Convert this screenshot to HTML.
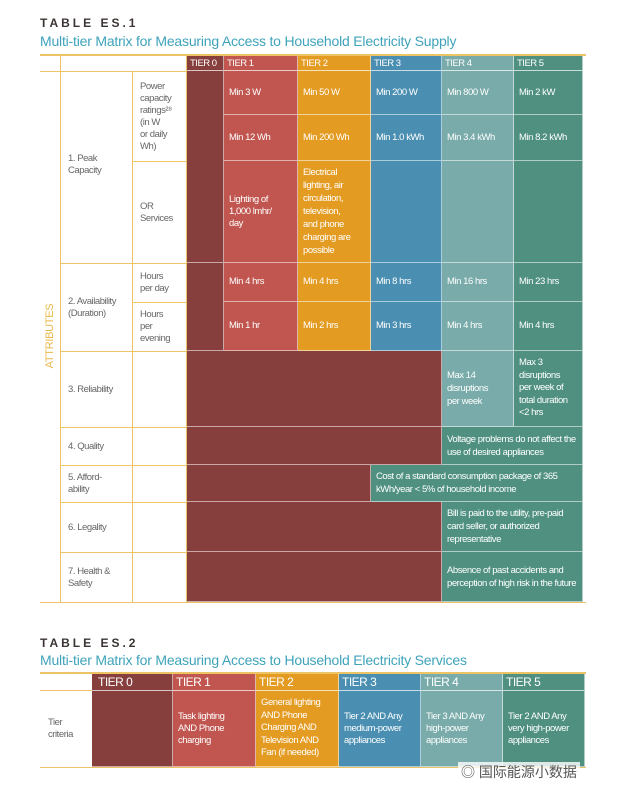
<!DOCTYPE html>
<html><head><meta charset="utf-8"><style>
body{margin:0;width:617px;height:800px;background:#fff;position:relative;overflow:hidden;font-family:"Liberation Sans",sans-serif;}
div{position:absolute;box-sizing:border-box;}
.c{color:#fff;font-size:9.5px;letter-spacing:-0.45px;line-height:12px;padding:0 5px;display:flex;align-items:center;border-right:1px solid rgba(255,255,255,.55);border-bottom:1px solid rgba(255,255,255,.55);}
.h{font-size:9.5px;letter-spacing:-0.5px;color:#fff;padding:2px 3px;line-height:12px;white-space:nowrap;border-right:1px solid rgba(255,255,255,.55);border-bottom:1px solid rgba(255,255,255,.7);}
.t0{background:#873f3e}.t1{background:#c0564f}.t2{background:#e39b22}.t3{background:#4a8fb1}.t4{background:#78aba9}.t5{background:#4f9080}
.l{color:#666;font-size:9.5px;letter-spacing:-0.45px;line-height:12px;padding-left:6px;display:flex;align-items:center;}
.g{background:#ecc466;}
.tt{font-family:"Liberation Sans",sans-serif;font-weight:bold;font-size:12px;letter-spacing:3px;color:#3b3433;}
.st{font-family:"Liberation Sans",sans-serif;font-size:14px;letter-spacing:-0.2px;color:#3ea3ba;}
</style></head><body>
<div class="tt" style="left:40px;top:16px">TABLE ES.1</div>
<div class="st" style="left:40px;top:33px">Multi-tier Matrix for Measuring Access to Household Electricity Supply</div>
<div class="g" style="left:40px;top:54px;width:546px;height:2px"></div>
<div class="g" style="left:40px;top:71px;width:147px;height:1px"></div>
<div class="g" style="left:60px;top:55px;width:1px;height:548px"></div>
<div class="g" style="left:132px;top:71px;width:1px;height:532px"></div>
<div class="g" style="left:186px;top:55px;width:1px;height:548px"></div>
<div class="g" style="left:132px;top:161px;width:55px;height:1px"></div>
<div class="g" style="left:60px;top:263px;width:127px;height:1px"></div>
<div class="g" style="left:132px;top:302px;width:55px;height:1px"></div>
<div class="g" style="left:60px;top:351px;width:127px;height:1px"></div>
<div class="g" style="left:60px;top:427px;width:127px;height:1px"></div>
<div class="g" style="left:60px;top:465px;width:127px;height:1px"></div>
<div class="g" style="left:60px;top:502px;width:127px;height:1px"></div>
<div class="g" style="left:60px;top:552px;width:127px;height:1px"></div>
<div class="g" style="left:40px;top:602px;width:546px;height:1px"></div>
<div style="transform:rotate(-90deg);transform-origin:center;color:#e9b84a;font-size:11px;width:80px;left:10px;top:330px;text-align:center;letter-spacing:-0.3px">ATTRIBUTES</div>
<div class="l" style="left:62px;top:150px;width:70px;height:30px">1. Peak<br>Capacity</div>
<div class="l" style="left:134px;top:73px;width:52px;height:88px">Power<br>capacity<br>ratings²⁸<br>(in W<br>or daily<br>Wh)</div>
<div class="l" style="left:134px;top:162px;width:52px;height:101px">OR<br>Services</div>
<div class="l" style="left:62px;top:264px;width:70px;height:87px">2. Availability<br>(Duration)</div>
<div class="l" style="left:134px;top:264px;width:52px;height:38px">Hours<br>per day</div>
<div class="l" style="left:134px;top:303px;width:52px;height:48px">Hours<br>per<br>evening</div>
<div class="l" style="left:62px;top:352px;width:70px;height:75px">3. Reliability</div>
<div class="l" style="left:62px;top:428px;width:70px;height:37px">4. Quality</div>
<div class="l" style="left:62px;top:466px;width:70px;height:36px">5. Afford-<br>ability</div>
<div class="l" style="left:62px;top:503px;width:70px;height:49px">6. Legality</div>
<div class="l" style="left:62px;top:553px;width:70px;height:49px">7. Health &amp;<br>Safety</div>
<div class="h t0" style="left:187px;top:56px;width:37px;height:15px">TIER 0</div>
<div class="h t1" style="left:224px;top:56px;width:74px;height:15px">TIER 1</div>
<div class="h t2" style="left:298px;top:56px;width:73px;height:15px">TIER 2</div>
<div class="h t3" style="left:371px;top:56px;width:71px;height:15px">TIER 3</div>
<div class="h t4" style="left:442px;top:56px;width:72px;height:15px">TIER 4</div>
<div class="h t5" style="left:514px;top:56px;width:69px;height:15px">TIER 5</div>
<div class="c t0" style="left:187px;top:71px;width:37px;height:192px"></div>
<div class="c t0" style="left:187px;top:263px;width:37px;height:88px"></div>
<div class="c t1" style="left:224px;top:71px;width:74px;height:44px">Min 3 W</div>
<div class="c t2" style="left:298px;top:71px;width:73px;height:44px">Min 50 W</div>
<div class="c t3" style="left:371px;top:71px;width:71px;height:44px">Min 200 W</div>
<div class="c t4" style="left:442px;top:71px;width:72px;height:44px">Min 800 W</div>
<div class="c t5" style="left:514px;top:71px;width:69px;height:44px">Min 2 kW</div>
<div class="c t1" style="left:224px;top:115px;width:74px;height:46px">Min 12 Wh</div>
<div class="c t2" style="left:298px;top:115px;width:73px;height:46px">Min 200 Wh</div>
<div class="c t3" style="left:371px;top:115px;width:71px;height:46px">Min 1.0 kWh</div>
<div class="c t4" style="left:442px;top:115px;width:72px;height:46px">Min 3.4 kWh</div>
<div class="c t5" style="left:514px;top:115px;width:69px;height:46px">Min 8.2 kWh</div>
<div class="c t1" style="left:224px;top:161px;width:74px;height:102px">Lighting of<br>1,000 lmhr/<br>day</div>
<div class="c t2" style="left:298px;top:161px;width:73px;height:102px;line-height:13px">Electrical<br>lighting, air<br>circulation,<br>television,<br>and phone<br>charging are<br>possible</div>
<div class="c t3" style="left:371px;top:161px;width:71px;height:102px"></div>
<div class="c t4" style="left:442px;top:161px;width:72px;height:102px"></div>
<div class="c t5" style="left:514px;top:161px;width:69px;height:102px"></div>
<div class="c t1" style="left:224px;top:263px;width:74px;height:39px">Min 4 hrs</div>
<div class="c t2" style="left:298px;top:263px;width:73px;height:39px">Min 4 hrs</div>
<div class="c t3" style="left:371px;top:263px;width:71px;height:39px">Min 8 hrs</div>
<div class="c t4" style="left:442px;top:263px;width:72px;height:39px">Min 16 hrs</div>
<div class="c t5" style="left:514px;top:263px;width:69px;height:39px">Min 23 hrs</div>
<div class="c t1" style="left:224px;top:302px;width:74px;height:49px">Min 1 hr</div>
<div class="c t2" style="left:298px;top:302px;width:73px;height:49px">Min 2 hrs</div>
<div class="c t3" style="left:371px;top:302px;width:71px;height:49px">Min 3 hrs</div>
<div class="c t4" style="left:442px;top:302px;width:72px;height:49px">Min 4 hrs</div>
<div class="c t5" style="left:514px;top:302px;width:69px;height:49px">Min 4 hrs</div>
<div class="c t0" style="left:187px;top:351px;width:255px;height:76px"></div>
<div class="c t4" style="left:442px;top:351px;width:72px;height:76px;line-height:13px">Max 14<br>disruptions<br>per week</div>
<div class="c t5" style="left:514px;top:351px;width:69px;height:76px;line-height:12.5px">Max 3<br>disruptions<br>per week of<br>total duration<br>&lt;2 hrs</div>
<div class="c t0" style="left:187px;top:427px;width:255px;height:38px"></div>
<div class="c t5" style="left:442px;top:427px;width:141px;height:38px;line-height:13px">Voltage problems do not affect the use of desired appliances</div>
<div class="c t0" style="left:187px;top:465px;width:184px;height:37px"></div>
<div class="c t5" style="left:371px;top:465px;width:212px;height:37px;line-height:13px">Cost of a standard consumption package of 365 kWh/year &lt; 5% of household income</div>
<div class="c t0" style="left:187px;top:502px;width:255px;height:50px"></div>
<div class="c t5" style="left:442px;top:502px;width:141px;height:50px;line-height:13px">Bill is paid to the utility, pre-paid card seller, or authorized representative</div>
<div class="c t0" style="left:187px;top:552px;width:255px;height:50px"></div>
<div class="c t5" style="left:442px;top:552px;width:141px;height:50px;line-height:13px">Absence of past accidents and perception of high risk in the future</div>

<div class="tt" style="left:40px;top:636px">TABLE ES.2</div>
<div class="st" style="left:40px;top:652px">Multi-tier Matrix for Measuring Access to Household Electricity Services</div>
<div class="g" style="left:40px;top:672px;width:546px;height:2px"></div>
<div class="g" style="left:40px;top:690px;width:52px;height:1px"></div>
<div class="g" style="left:40px;top:767px;width:546px;height:1px"></div>
<div class="h t0" style="left:92px;top:674px;width:81px;height:17px;font-size:12px;padding-left:6px">TIER 0</div>
<div class="h t1" style="left:173px;top:674px;width:83px;height:17px;font-size:12px">TIER 1</div>
<div class="h t2" style="left:256px;top:674px;width:83px;height:17px;font-size:12px">TIER 2</div>
<div class="h t3" style="left:339px;top:674px;width:82px;height:17px;font-size:12px">TIER 3</div>
<div class="h t4" style="left:421px;top:674px;width:82px;height:17px;font-size:12px">TIER 4</div>
<div class="h t5" style="left:503px;top:674px;width:82px;height:17px;font-size:12px">TIER 5</div>
<div class="l" style="left:42px;top:691px;width:50px;height:76px">Tier<br>criteria</div>
<div class="c t0" style="left:92px;top:691px;width:81px;height:76px"></div>
<div class="c t1" style="left:173px;top:691px;width:83px;height:76px">Task lighting<br>AND Phone<br>charging</div>
<div class="c t2" style="left:256px;top:691px;width:83px;height:76px;line-height:12.5px">General lighting<br>AND Phone<br>Charging AND<br>Television AND<br>Fan (if needed)</div>
<div class="c t3" style="left:339px;top:691px;width:82px;height:76px">Tier 2 AND Any<br>medium-power<br>appliances</div>
<div class="c t4" style="left:421px;top:691px;width:82px;height:76px">Tier 3 AND Any<br>high-power<br>appliances</div>
<div class="c t5" style="left:503px;top:691px;width:82px;height:76px">Tier 2 AND Any<br>very high-power<br>appliances</div>
<div style="left:458px;top:762px;font-family:'Liberation Sans','Noto Sans CJK SC',sans-serif;font-size:14px;color:#555;background:rgba(255,255,255,.8);padding:0 3px">◎ 国际能源小数据</div>
</body></html>
